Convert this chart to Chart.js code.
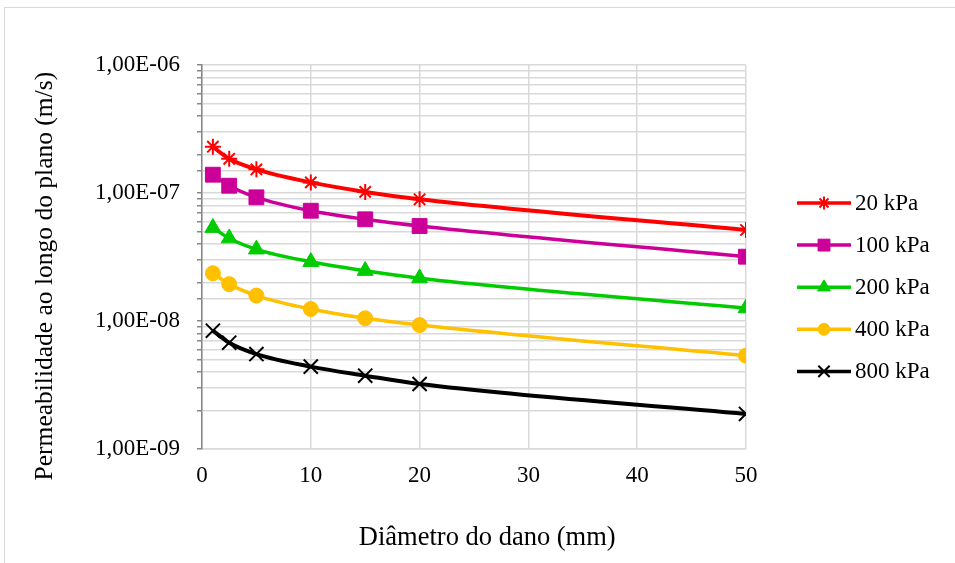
<!DOCTYPE html>
<html>
<head>
<meta charset="utf-8">
<script src="https://cdn.jsdelivr.net/npm/chart.js@4"></script>
<style>
  html, body { margin: 0; padding: 0; background: #ffffff; }
  #wrap { position: relative; width: 955px; height: 563px; overflow: hidden; }
  #frame { position: absolute; left: 4px; top: 7px; width: 970px; height: 580px; border: 1px solid #d9d9d9; pointer-events: none; }
  canvas { position: absolute; left: 0; top: 0; }
</style>
</head>
<body>
<div id="wrap">
  <canvas id="c" width="955" height="563"></canvas>
  <div id="frame"></div>
</div>
<script>
// Diâmetro do dano (mm)
const diameters = [1, 2.5, 5, 10, 15, 20, 50];
const seriesNames = ['20 kPa', '100 kPa', '200 kPa', '400 kPa', '800 kPa'];
const k20  = [2.30e-7, 1.85e-7, 1.53e-7, 1.21e-7, 1.02e-7, 8.93e-8, 5.14e-8];
const k100 = [1.39e-7, 1.14e-7, 9.25e-8, 7.27e-8, 6.23e-8, 5.52e-8, 3.18e-8];
const k200 = [5.35e-8, 4.43e-8, 3.63e-8, 2.90e-8, 2.47e-8, 2.16e-8, 1.26e-8];
const k400 = [2.36e-8, 1.94e-8, 1.58e-8, 1.24e-8, 1.05e-8, 9.30e-9, 5.36e-9];
const k800 = [8.40e-9, 6.77e-9, 5.52e-9, 4.40e-9, 3.74e-9, 3.22e-9, 1.88e-9];
const xTicks = [0, 10, 20, 30, 40, 50];
const yMin = 1e-9, yMax = 1e-6;

const styles = [
  { color: '#FF0000', point: 'star',     radius: 8,    border: 2,   line: 4 },
  { color: '#CC0099', point: 'rect',     radius: 10.5, border: 1,   line: 3.5 },
  { color: '#00CC00', point: 'triangle', radius: 9.2,  border: 1,   line: 3.5 },
  { color: '#FFC000', point: 'circle',   radius: 7.5,  border: 1,   line: 3.5 },
  { color: '#000000', point: 'crossRot', radius: 10,   border: 2,   line: 4 }
];
const allSeries = [k20, k100, k200, k400, k800];

const FONT = "'Liberation Serif', 'Times New Roman', serif";
const NB = '\u00A0';

const datasets = allSeries.map((vals, i) => ({
  label: seriesNames[i],
  data: diameters.map((d, j) => ({ x: d, y: vals[j] })),
  borderColor: styles[i].color,
  backgroundColor: styles[i].color,
  pointBackgroundColor: styles[i].color,
  pointBorderColor: styles[i].color,
  pointStyle: styles[i].point,
  pointRadius: styles[i].radius,
  pointBorderWidth: styles[i].border,
  borderWidth: styles[i].line,
  cubicInterpolationMode: 'monotone',
  tension: 0.4,
  fill: false
}));

const legendPlugin = {
  id: 'sideLegend',
  afterDraw(chart) {
    const ctx = chart.ctx;
    const x0 = 797, x1 = 851, tx = 855;
    const y0 = 203, dy = 42.1;
    ctx.save();
    chart.data.datasets.forEach((ds, i) => {
      const y = y0 + i * dy;
      ctx.strokeStyle = ds.borderColor;
      ctx.lineWidth = 3.5;
      ctx.beginPath();
      ctx.moveTo(x0, y);
      ctx.lineTo(x1, y);
      ctx.stroke();
      ctx.fillStyle = ds.backgroundColor;
      ctx.strokeStyle = ds.borderColor;
      ctx.lineWidth = ds.pointBorderWidth;
      Chart.helpers.drawPoint(ctx, {
        pointStyle: ds.pointStyle, rotation: 0,
        borderWidth: ds.pointBorderWidth, radius: ds.pointRadius * 0.8
      }, (x0 + x1) / 2, y);
      ctx.fillStyle = '#000000';
      ctx.font = '23px ' + FONT;
      ctx.textBaseline = 'middle';
      ctx.textAlign = 'left';
      ctx.fillText(ds.label, tx, y + 1);
    });
    ctx.restore();
  }
};

function fmtExp(v) {
  const e = Math.round(Math.log10(v));
  const sign = e < 0 ? '-' : '+';
  const a = Math.abs(e);
  return '1,00E' + sign + (a < 10 ? '0' + a : '' + a);
}

new Chart(document.getElementById('c'), {
  type: 'line',
  data: { datasets },
  plugins: [legendPlugin],
  options: {
    responsive: false,
    animation: false,
    devicePixelRatio: 1,
    layout: { padding: { top: 65, right: 209, bottom: 0, left: 0 } },
    plugins: { legend: { display: false }, tooltip: { enabled: false } },
    scales: {
      x: {
        type: 'linear',
        min: xTicks[0],
        max: xTicks[xTicks.length - 1],
        afterBuildTicks(scale) { scale.ticks = xTicks.map(v => ({ value: v })); },
        afterFit(scale) { scale.height = 114; },
        grid: { color: '#d9d9d9', lineWidth: 1.5, drawTicks: false },
        border: { color: '#d9d9d9', width: 1.5 },
        ticks: { color: '#000000', font: { family: FONT, size: 23 }, padding: 13, maxRotation: 0 },
        title: { display: true, text: NB.repeat(4) + 'Diâmetro do dano (mm)', color: '#000000',
                 font: { family: FONT, size: 26.5 }, padding: { top: 0, bottom: 9 } }
      },
      y: {
        type: 'logarithmic',
        min: yMin,
        max: yMax,
        afterFit(scale) { scale.width = 202; },
        grid: { color: '#d9d9d9', lineWidth: 1.5, drawTicks: true, tickLength: 5, tickColor: '#868686' },
        border: { color: '#868686', width: 1.5 },
        ticks: {
          autoSkip: false,
          color: '#000000',
          font: { family: FONT, size: 23 },
          padding: 17,
          callback(value) {
            const l = Math.log10(value);
            return Math.abs(l - Math.round(l)) < 1e-6 ? fmtExp(value) : '';
          }
        },
        title: { display: true, text: 'Permeabilidade ao longo do plano (m/s)' + NB.repeat(6), color: '#000000',
                 font: { family: FONT, size: 25.5 }, padding: { top: 30, bottom: 0 } }
      }
    }
  }
});
</script>
</body>
</html>
